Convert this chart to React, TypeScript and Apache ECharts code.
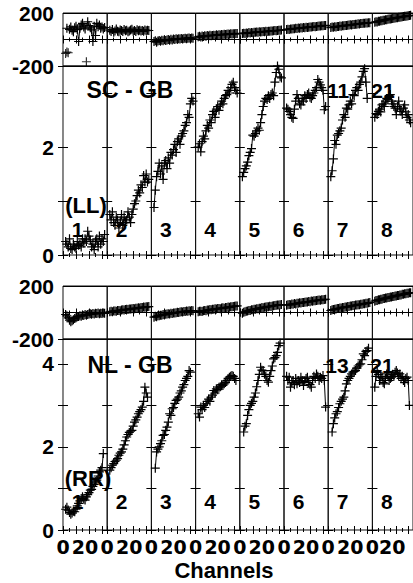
import React, { useEffect, useRef } from "react";
import * as echarts from "echarts";

// Channel numbers (x values) for every IF panel
const CHANNELS = [2, 3, 4, 5, 6, 7, 8, 9, 10, 11, 12, 13, 14, 15, 16, 17, 18, 19, 20, 21, 22, 23, 24, 25, 26, 27, 28, 29, 30, 31, 32];
const IF_LABELS = ["1", "2", "3", "4", "5", "6", "7", "8"];
const X_TICK_LABELS = ["0", "20"];
const PHASE_TICK_LABELS = ["200", "-200"];
const AMP_TICK_LABELS = ["0", "2", "4"];

// ---- SC - GB (LL) ----
const LL_PHASE_1 = [null, 85, null, 77, 95, 70, 59, 88, 100, 75, -15, 85, 110, 122, 95, 80, null, 134, 105, 88, 72, -15, 100, 30, 122, 97, 110, 85, 95, 80, 90];
const LL_PHASE_1_OUTLIERS = [[2, -105], [3, -95], [4, -100], [18, -168]];
const LL_PHASE_2 = [70, 60, 75, 55, 65, 80, 62, 58, 72, 68, 60, 75, 66, 70, 58, 64, 72, 78, 62, 68, 60, 74, 66, 70, 64, 68, 62, 72, 66, 70, 68];
const LL_PHASE_3 = [-15, -10, -20, -12, -8, -14, -5, -10, -2, -8, -4, 0, -6, 2, -3, 4, 0, 5, 2, 6, 3, 8, 4, 7, 10, 6, 9, 12, 8, 11, 10];
const LL_PHASE_4 = [20, 24, 18, 26, 22, 28, 25, 30, 27, 32, 29, 30, 33, 31, 35, 33, 36, 34, 38, 36, 39, 37, 40, 41, 39, 43, 42, 44, 43, 46, 45];
const LL_PHASE_5 = [45, 48, 46, 50, 47, 52, 50, 53, 51, 55, 54, 56, 55, 58, 57, 59, 60, 58, 62, 61, 63, 62, 65, 64, 66, 67, 66, 68, 69, 70, 71];
const LL_PHASE_6 = [75, 78, 76, 80, 79, 82, 81, 84, 83, 86, 85, 88, 87, 90, 89, 92, 91, 93, 95, 94, 96, 98, 97, 99, 100, 101, 102, 103, 104, 105, 106];
const LL_PHASE_7 = [90, 94, 92, 96, 95, 98, 99, 101, 100, 104, 103, 106, 105, 108, 109, 111, 110, 113, 114, 115, 116, 118, 117, 120, 121, 122, 123, 124, 125, 126, 127];
const LL_PHASE_8 = [130, 134, 133, 137, 138, 141, 142, 145, 146, 149, 150, 152, 154, 155, 157, 159, 160, 162, 164, 165, 167, 168, 170, 172, 173, 175, 176, 178, 179, 181, 183];

const LL_AMP_1 = [0.25, 0.2, 0.15, 0.3, 0.12, 0.1, 0.2, 0.15, 0.12, 0.25, 0.18, 0.2, 0.15, 0.3, 0.22, 0.3, 0.25, 0.44, 0.35, 0.28, 0.15, 0.2, 0.1, 0.25, 0.3, 0.15, 0.35, 0.2, 0.3, 0.25, 0.38];
const LL_AMP_2 = [0.75, 0.65, 0.8, 0.6, 0.55, 0.7, 0.65, 0.5, 0.6, 0.75, 0.55, 0.7, 0.6, 0.65, 0.8, 0.7, 0.6, 0.75, 0.85, 0.95, 1.0, 1.1, 1.2, 1.15, 1.3, 1.25, 1.47, 1.35, 1.5, 1.35, 1.4];
const LL_AMP_3 = [0.88, 1.2, 1.45, 1.55, 1.7, 1.5, 1.65, 1.4, 1.7, 1.75, 1.6, 1.8, 1.7, 1.9, 1.85, 1.95, 2.05, 1.9, 2.1, 2.15, 2.05, 2.2, 2.25, 2.3, 2.4, 2.45, 2.6, 2.55, 2.8, 2.9, 2.85];
const LL_AMP_4 = [2.0, 2.06, 1.91, 2.1, 2.2, 2.15, 2.3, 2.4, 2.35, 2.5, 2.45, 2.6, 2.66, 2.55, 2.7, 2.75, 2.68, 2.78, 2.85, 2.8, 2.9, 2.95, 2.97, 3.05, 3.0, 3.1, 3.16, 3.2, 3.1, 3.05, 3.0];
const LL_AMP_5 = [1.45, 1.53, 1.6, 1.65, 1.72, 1.84, 1.9, 1.97, 2.22, 2.2, 2.25, 2.3, 2.35, 2.31, 2.45, 2.6, 2.75, 2.85, 2.9, 2.88, 2.95, 2.9, 2.97, 3.0, 2.95, 3.2, 3.38, 3.5, 3.44, 3.3, 3.28];
const LL_AMP_6 = [2.72, 2.7, 2.66, 2.6, 2.55, 2.53, 2.7, 2.85, 2.97, 2.9, 2.8, 2.78, 2.9, 2.85, 2.95, 2.9, 2.97, 3.0, 2.92, 2.9, 2.95, 3.0, 3.05, 3.1, 3.25, 3.2, 3.15, 3.1, 3.05, 2.69, 2.75];
const LL_AMP_7 = [1.45, 1.56, 1.78, 2.12, 2.05, 2.22, 2.25, 2.3, 2.35, 2.5, 2.6, 2.55, 2.72, 2.7, 2.78, 2.85, 2.8, 2.97, 2.95, 3.05, 3.1, 3.05, 3.16, 3.2, 3.3, 3.4, 3.45, 3.2, 2.9, null, null];
const LL_AMP_8 = [2.55, 2.62, 2.6, 2.66, 2.7, 2.65, 2.78, 2.8, 2.75, 2.85, 2.9, 2.88, 2.95, 2.97, 2.85, 2.8, 2.75, 2.72, 2.6, 2.75, 2.85, 2.7, 2.66, 2.6, 2.72, 2.78, 2.65, 2.55, 2.6, 2.5, 2.45];

// ---- NL - GB (RR) ----
const RR_PHASE_1 = [-15, -25, -40, -58, -70, -62, -55, -45, -40, -33, -30, -24, -28, -20, -22, -16, -20, -15, -11, -10, -14, -8, -11, -6, -8, -4, -9, -5, -7, -3, -6];
const RR_PHASE_2 = [5, 9, 6, 11, 12, 10, 15, 16, 14, 19, 20, 18, 23, 24, 22, 27, 26, 29, 31, 28, 33, 32, 36, 34, 38, 37, 41, 39, 43, 44, 45];
const RR_PHASE_3 = [-35, -29, -33, -25, -24, -21, -20, -16, -18, -13, -12, -9, -11, -6, -7, -3, -4, -1, 1, 0, 4, 5, 3, 8, 7, 11, 9, 13, 12, 15, 14];
const RR_PHASE_4 = [5, 9, 10, 8, 14, 15, 13, 19, 18, 22, 20, 25, 24, 28, 26, 30, 31, 29, 34, 35, 33, 38, 37, 41, 39, 43, 44, 46, 47, 49, 50];
const RR_PHASE_5 = [-5, 1, 5, 9, 11, 15, 16, 20, 21, 25, 24, 29, 28, 33, 32, 37, 36, 40, 41, 43, 44, 47, 46, 50, 51, 53, 54, 56, 57, 59, 60];
const RR_PHASE_6 = [55, 59, 60, 58, 64, 63, 67, 65, 70, 69, 73, 71, 76, 75, 78, 80, 79, 83, 81, 86, 85, 88, 89, 91, 92, 94, 93, 97, 96, 99, 100];
const RR_PHASE_7 = [15, 21, 22, 25, 26, 30, 30, 34, 34, 38, 38, 42, 42, 45, 45, 49, 49, 53, 52, 56, 56, 59, 59, 63, 62, 66, 66, 70, 69, 73, 75];
const RR_PHASE_8 = [85, 91, 91, 96, 96, 100, 100, 105, 105, 109, 109, 113, 113, 117, 117, 121, 121, 125, 125, 129, 129, 133, 133, 137, 137, 141, 141, 145, 145, 149, 150];

const RR_AMP_1 = [0.5, 0.55, 0.48, 0.42, 0.38, 0.41, 0.45, 0.44, 0.5, 0.58, 0.64, 0.7, 0.76, 0.8, 0.74, 0.72, 0.8, 0.85, 0.9, 0.96, 0.98, 1.05, 1.1, 1.16, 1.2, 1.3, 1.4, 1.44, 1.5, 1.84, null];
const RR_AMP_2 = [1.44, 1.5, 1.56, 1.6, 1.65, 1.68, 1.72, 1.8, 1.85, 1.88, 1.95, 2.05, 2.15, 2.24, 2.3, 2.35, 2.38, 2.4, 2.5, 2.6, 2.65, 2.72, 2.8, 2.85, 2.9, 2.96, 3.1, 3.44, 3.3, 3.2, null];
const RR_AMP_3 = [null, 1.49, 1.88, 1.95, 2.0, 2.08, 2.15, 2.28, 2.3, 2.4, 2.48, 2.6, 2.8, 2.76, 2.92, 2.95, 3.05, 3.12, 3.15, 3.2, 3.3, 3.35, 3.44, 3.5, 3.6, 3.65, 3.7, 3.84, 3.8, null, null];
const RR_AMP_4 = [2.8, 2.72, 2.96, 2.9, 3.0, 2.95, 3.04, 3.1, 3.15, 3.1, 3.2, 3.25, 3.36, 3.3, 3.4, 3.38, 3.44, 3.45, 3.5, 3.48, 3.52, 3.55, 3.6, 3.65, 3.68, 3.7, 3.72, 3.7, 3.65, 3.6, null];
const RR_AMP_5 = [null, 2.36, 2.5, 2.56, 2.76, 2.9, 3.0, 3.05, 3.1, 3.2, 3.3, 3.45, 3.6, 3.75, 3.92, 3.85, 3.84, 3.75, 3.7, 3.6, 3.56, 3.7, 3.84, 3.95, 4.12, 4.15, 4.2, 4.28, 4.44, 4.5, null];
const RR_AMP_6 = [3.7, 3.6, 3.68, 3.44, 3.55, 3.6, 3.5, 3.65, 3.52, 3.6, 3.55, 3.68, 3.6, 3.48, 3.58, 3.65, 3.68, 3.55, 3.5, 3.44, 3.6, 3.7, 3.65, 3.76, 3.7, 3.6, 3.68, 3.65, 3.72, 3.6, 2.96];
const RR_AMP_7 = [null, 2.36, 2.56, 2.7, 2.8, 2.85, 2.95, 3.04, 3.1, 3.15, 3.2, 3.35, 3.52, 3.6, 3.65, 3.7, 3.76, 3.8, 3.82, 3.84, 3.9, 3.95, 3.98, 4.0, 4.1, 4.24, 4.2, 4.3, 4.32, 4.38, null];
const RR_AMP_8 = [3.44, 3.7, 3.84, 3.75, 3.6, 3.68, 3.7, 3.55, 3.52, 3.65, 3.76, 3.7, 3.6, 3.65, 3.68, 3.75, 3.7, 3.8, 3.84, 3.78, 3.7, 3.76, 3.65, 3.7, 3.6, 3.55, 3.65, 3.68, 3.6, 3.0, null];

const ROWS_DATA = [
  [LL_PHASE_1, LL_PHASE_2, LL_PHASE_3, LL_PHASE_4, LL_PHASE_5, LL_PHASE_6, LL_PHASE_7, LL_PHASE_8],
  [LL_AMP_1, LL_AMP_2, LL_AMP_3, LL_AMP_4, LL_AMP_5, LL_AMP_6, LL_AMP_7, LL_AMP_8],
  [RR_PHASE_1, RR_PHASE_2, RR_PHASE_3, RR_PHASE_4, RR_PHASE_5, RR_PHASE_6, RR_PHASE_7, RR_PHASE_8],
  [RR_AMP_1, RR_AMP_2, RR_AMP_3, RR_AMP_4, RR_AMP_5, RR_AMP_6, RR_AMP_7, RR_AMP_8],
];

// layout
const PLOT_LEFT = 63;
const COL_W = 44.2;
const ROWS = [
  { top: 13, height: 53, kind: "phase" },
  { top: 66, height: 189, kind: "amp", max: 3.5 },
  { top: 286, height: 53, kind: "phase" },
  { top: 339, height: 191, kind: "amp", max: 4.6 },
];
const PLUS = "path://M3.9,0h1.2v3.9h3.9v1.2h-3.9v3.9h-1.2v-3.9h-3.9v-1.2h3.9z";
const BOLD = '"Liberation Sans", Arial, Helvetica, sans-serif';
const WIDE = '"DejaVu Sans", Verdana, sans-serif';

export default function App() {
  const ref = useRef<HTMLDivElement>(null);
  useEffect(() => {
    if (!ref.current) return;
    const chart = echarts.init(ref.current, undefined, { renderer: "svg" });
    const grid: any[] = [];
    const xAxis: any[] = [];
    const yAxis: any[] = [];
    const series: any[] = [];
    const tickStyle = { color: "#000", width: 1 };

    ROWS.forEach((row, r) => {
      for (let c = 0; c < 8; c++) {
        const g = r * 8 + c;
        grid.push({
          left: PLOT_LEFT + c * COL_W,
          top: row.top,
          width: COL_W,
          height: row.height,
          show: true,
          borderColor: "#111",
          borderWidth: 1,
          backgroundColor: "transparent",
        });
        const showX = r === 3;
        ["bottom", "top"].forEach((pos) => {
          xAxis.push({
            gridIndex: g,
            type: "value",
            position: pos,
            min: 0,
            max: 34,
            interval: 10,
            axisLine: { show: false },
            axisTick: { show: true, inside: true, length: 4, lineStyle: tickStyle },
            minorTick: { show: true, splitNumber: 2, length: 2, lineStyle: tickStyle },
            splitLine: { show: false },
            axisLabel: {
              show: showX && pos === "bottom",
              margin: 7,
              color: "#000",
              fontSize: 19,
              fontWeight: "bold",
              fontFamily: WIDE,
              showMinLabel: true,
              showMaxLabel: false,
              formatter: (v: number) => (v === 0 ? X_TICK_LABELS[0] : v === 20 ? `{t|${X_TICK_LABELS[1]}}` : ""),
              rich: {
                t: { fontSize: 19, fontWeight: "bold", fontFamily: WIDE, color: "#000", padding: [0, 8, 0, 0] },
              },
            },
          });
        });
        ["left", "right"].forEach((pos) => {
          const isPhase = row.kind === "phase";
          yAxis.push({
            gridIndex: g,
            type: "value",
            position: pos,
            min: isPhase ? -200 : 0,
            max: isPhase ? 200 : row.max,
            interval: isPhase ? 200 : 1,
            axisLine: { show: false },
            axisTick: { show: !isPhase, inside: true, length: 5, lineStyle: tickStyle },
            splitLine: { show: isPhase && pos === "left", lineStyle: { color: "#000", width: 1 } },
            axisLabel: {
              show: c === 0 && pos === "left",
              margin: 9,
              color: "#000",
              fontSize: 21,
              fontWeight: "bold",
              fontFamily: BOLD,
              showMinLabel: true,
              showMaxLabel: true,
              formatter: (v: number) => {
                if (isPhase) return v === 200 ? PHASE_TICK_LABELS[0] : v === -200 ? PHASE_TICK_LABELS[1] : "";
                const s = String(v);
                return AMP_TICK_LABELS.includes(s) ? s : "";
              },
            },
          });
        });
        const vals = ROWS_DATA[r][c];
        series.push({
          type: "line",
          xAxisIndex: 2 * g,
          yAxisIndex: 2 * g,
          data: CHANNELS.map((ch, i) => [ch, vals[i] === null ? null : vals[i]]),
          connectNulls: true,
          symbol: PLUS,
          symbolSize: 9,
          showAllSymbol: true,
          itemStyle: { color: "#000" },
          lineStyle: { color: "#000", width: 1 },
          silent: true,
        });
      }
    });
    // outlier phases in IF 1 of SC - GB
    series.push({
      type: "scatter",
      xAxisIndex: 0,
      yAxisIndex: 0,
      data: LL_PHASE_1_OUTLIERS,
      symbol: PLUS,
      symbolSize: 9,
      itemStyle: { color: "#000" },
      silent: true,
    });

    const txt = (text: string, x: number, y: number, size: number) => ({
      type: "text",
      x,
      y,
      silent: true,
      style: {
        text,
        fill: "#000",
        font: `bold ${size}px ${BOLD}`,
        textAlign: "center",
        textVerticalAlign: "middle",
        align: "center",
        verticalAlign: "middle",
      },
    });
    const graphic: any[] = [
      txt("SC - GB", 130, 90, 23),
      txt("11", 338, 90, 21),
      txt("21", 383, 90, 21),
      txt("(LL)", 86, 205, 22),
      txt("NL - GB", 130, 365, 23),
      txt("13", 337, 365, 21),
      txt("21", 382, 365, 21),
      txt("(RR)", 88, 478, 22),
      txt("Channels", 224, 570, 22),
    ];
    IF_LABELS.forEach((lab, i) => {
      graphic.push(txt(lab, PLOT_LEFT + i * COL_W + 14.5, 229, 21));
      graphic.push(txt(lab, PLOT_LEFT + i * COL_W + 14.5, 501, 21));
    });

    chart.setOption({
      animation: false,
      backgroundColor: "#fff",
      grid,
      xAxis,
      yAxis,
      series,
      graphic,
    });
    return () => chart.dispose();
  }, []);
  return <div ref={ref} style={{ position: "fixed", left: 0, top: 0, width: 413, height: 583 }} />;
}
